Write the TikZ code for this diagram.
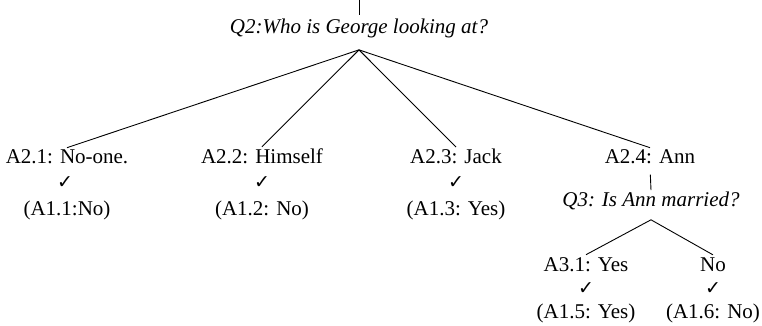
\documentclass[tikz,border=0pt]{standalone}
\usepackage{fontspec}
\setmainfont{Liberation Serif}
\newfontfamily\symfont{DejaVu Sans}
\begin{document}
\begin{tikzpicture}[x=0.5pt,y=-0.5pt,
  every node/.style={font=\fontsize{10.5}{12}\selectfont, inner sep=1pt, anchor=base},
  qnode/.style={font=\fontsize{10.5}{12}\selectfont\itshape},
  cknode/.style={font=\symfont\fontsize{9.5}{10}\selectfont},
  conn/.style={line width=0.45pt}]
\useasboundingbox (0,0) rectangle (762,326);
\coordinate (top) at (359,0);
\node[qnode] (q2) at (359,34) {Q2:Who is George looking at?};
% answers level 2
\node (a21) at (67,164) {A2.1: No-one.};
\node (a22) at (262,164) {A2.2: Himself};
\node (a23) at (456,164) {A2.3: Jack};
\node (a24) at (650,164) {A2.4: Ann};
\node[cknode] (c21) at (65,189) {✓};
\node[cknode] (c22) at (262,189) {✓};
\node[cknode] (c23) at (456,189) {✓};
\node (r11) at (67,216) {(A1.1:No)};
\node (r12) at (262,216) {(A1.2: No)};
\node (r13) at (456,216) {(A1.3: Yes)};
\node[qnode] (q3) at (651,207) {Q3: Is Ann married?};
\node (a31) at (586,271) {A3.1: Yes};
\node (a32) at (713,271) {No};
\node[cknode] (c31) at (586,295) {✓};
\node[cknode] (c32) at (713,295) {✓};
\node (r15) at (586,319) {(A1.5: Yes)};
\node (r16) at (713,319) {(A1.6: No)};
% connectors
\draw[conn,shorten >=1pt] (top) -- (q2.north);
\foreach \n in {a21,a22,a23,a24}
  \draw[conn] ([yshift=-4.5pt]q2.south) -- (\n.north);
\draw[conn,shorten <=4pt] (a24.south) -- (q3.north);
\draw[conn] ([yshift=-3.5pt]q3.south) -- (a31.north);
\draw[conn] ([yshift=-3.5pt]q3.south) -- (a32.north);
\end{tikzpicture}
\end{document}
